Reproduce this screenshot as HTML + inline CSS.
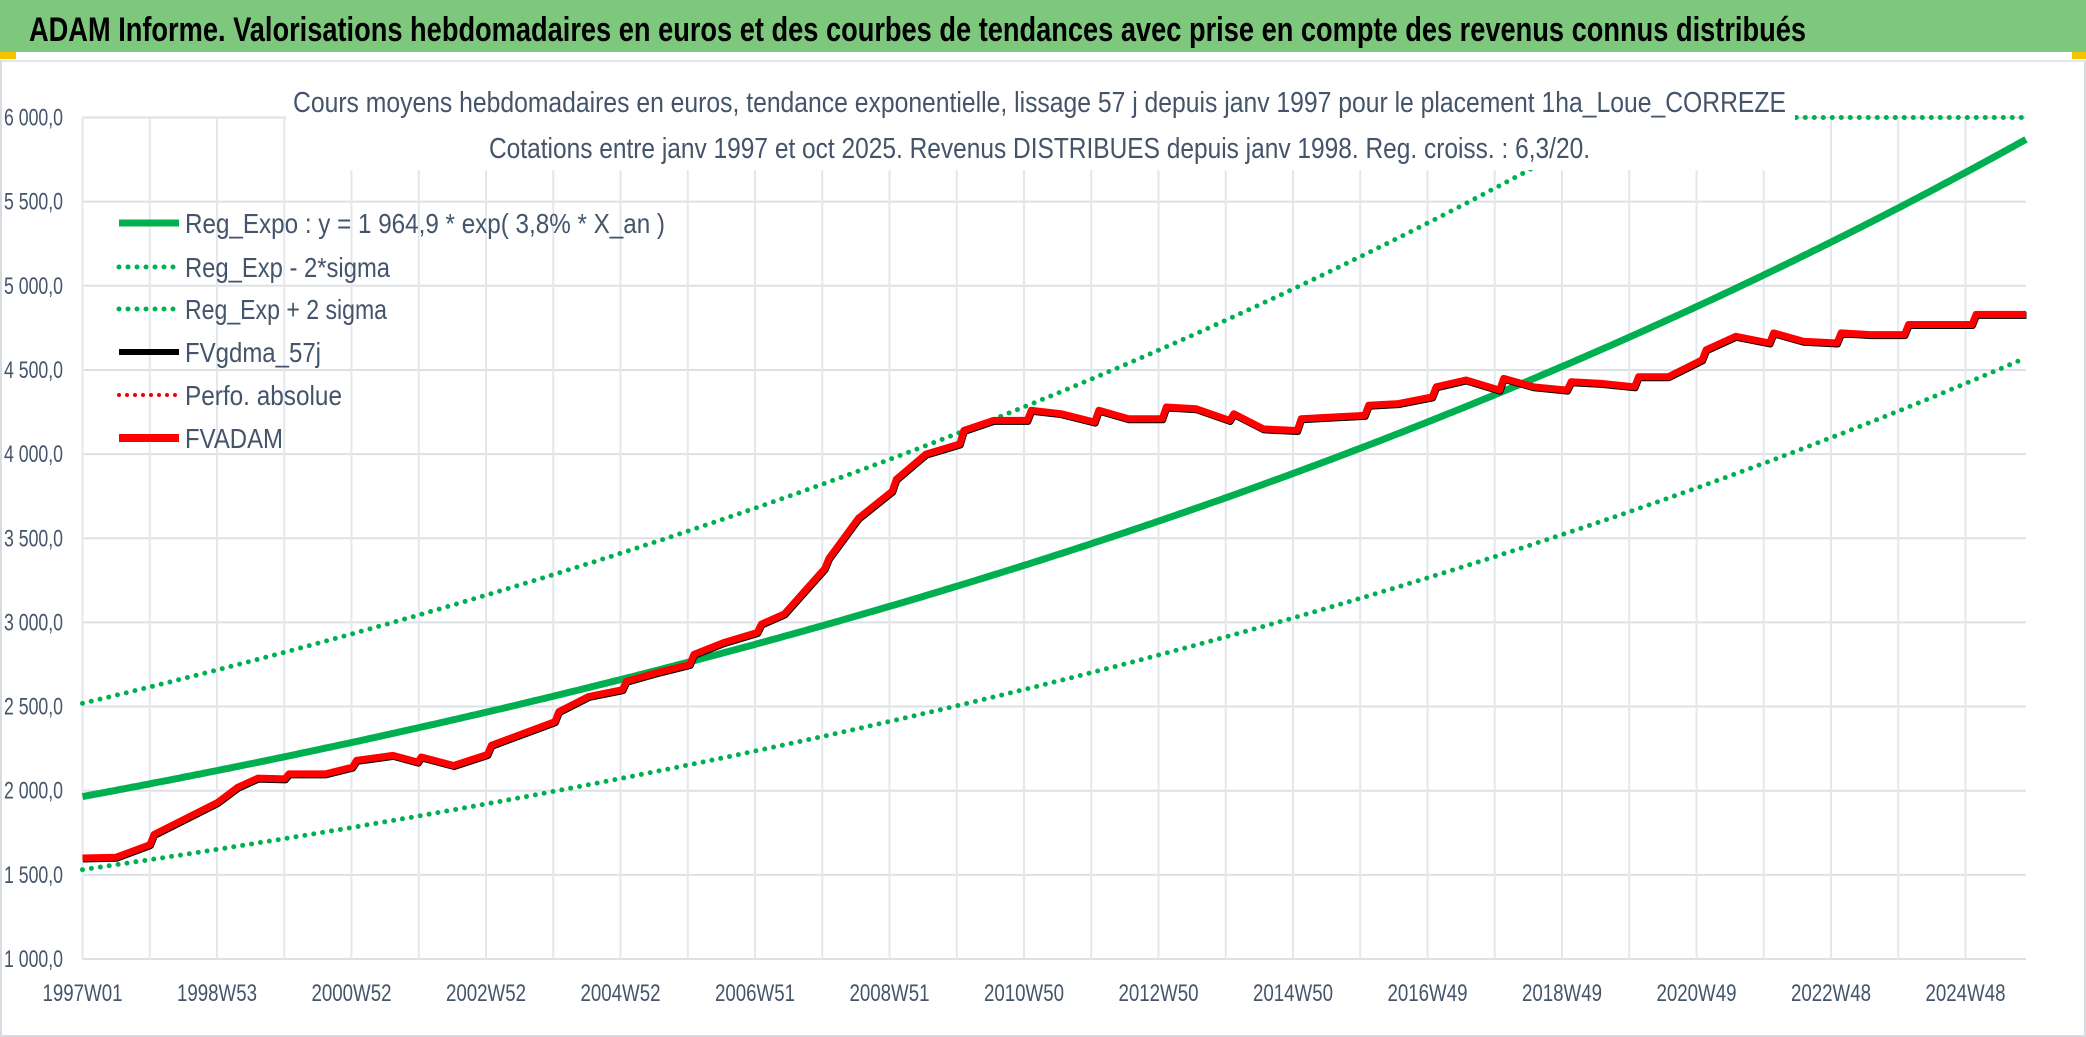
<!DOCTYPE html>
<html><head><meta charset="utf-8"><style>
html,body{margin:0;padding:0;background:#fff;}
svg{display:block;font-family:"Liberation Sans",sans-serif;}
</style></head><body>
<svg id="chart" width="2086" height="1037" viewBox="0 0 2086 1037" xmlns="http://www.w3.org/2000/svg">
<rect x="0" y="0" width="2086" height="1037" fill="#fff"/>
<rect x="0" y="0" width="2086" height="52" fill="#7ec87e"/>
<rect x="0" y="52" width="16" height="7" fill="#f5c400"/>
<rect x="2072" y="52" width="14" height="7" fill="#f5c400"/>
<line x1="0" y1="61" x2="2086" y2="61" stroke="#e3e6ea" stroke-width="2"/>
<line x1="1" y1="61" x2="1" y2="1037" stroke="#d8dbe0" stroke-width="2"/>
<line x1="2085" y1="61" x2="2085" y2="1037" stroke="#d8dbe0" stroke-width="2"/>
<line x1="0" y1="1036" x2="2086" y2="1036" stroke="#d8dbe0" stroke-width="2"/>
<text x="29" y="41" font-size="34" font-weight="bold" fill="#000" textLength="1777" lengthAdjust="spacingAndGlyphs">ADAM Informe. Valorisations hebdomadaires en euros et des courbes de tendances avec prise en compte des revenus connus distribués</text>
<g id="grid"></g>
<g id="yaxis"></g>
<g id="xaxis"></g>
<g id="series"></g>
<rect x="286" y="84" width="1509" height="86" fill="#fff"/>
<text x="293" y="112" font-size="29" fill="#44546a" textLength="1493" lengthAdjust="spacingAndGlyphs">Cours moyens hebdomadaires en euros, tendance exponentielle, lissage 57 j depuis janv 1997 pour le placement 1ha_Loue_CORREZE</text>
<text x="489" y="158" font-size="29" fill="#44546a" textLength="1101" lengthAdjust="spacingAndGlyphs">Cotations entre janv 1997 et oct 2025. Revenus DISTRIBUES depuis janv 1998. Reg. croiss. : 6,3/20.</text>
<g font-size="28" fill="#44546a">
 <g><line x1="119" y1="223" x2="179" y2="223" stroke="#00b050" stroke-width="7"/><text x="185" y="233" textLength="480" lengthAdjust="spacingAndGlyphs">Reg_Expo : y = 1 964,9 * exp( 3,8% *  X_an )</text></g>
 <g><line x1="119" y1="267" x2="179" y2="267" stroke="#00b050" stroke-width="5" stroke-dasharray="0 9" stroke-linecap="round"/><text x="185" y="277" textLength="205" lengthAdjust="spacingAndGlyphs">Reg_Exp - 2*sigma</text></g>
 <g><line x1="119" y1="309" x2="179" y2="309" stroke="#00b050" stroke-width="5" stroke-dasharray="0 9" stroke-linecap="round"/><text x="185" y="319" textLength="202" lengthAdjust="spacingAndGlyphs">Reg_Exp + 2 sigma</text></g>
 <g><line x1="119" y1="352" x2="179" y2="352" stroke="#000" stroke-width="6"/><text x="185" y="362" textLength="136" lengthAdjust="spacingAndGlyphs">FVgdma_57j</text></g>
 <g><line x1="119" y1="395" x2="179" y2="395" stroke="#e00" stroke-width="4" stroke-dasharray="0 8" stroke-linecap="round"/><text x="185" y="405" textLength="157" lengthAdjust="spacingAndGlyphs">Perfo. absolue</text></g>
 <g><line x1="119" y1="438" x2="179" y2="438" stroke="#f00" stroke-width="8"/><text x="185" y="448" textLength="98" lengthAdjust="spacingAndGlyphs">FVADAM</text></g>
</g>
</svg>
<script>
const yTicks=[1000,1500,2000,2500,3000,3500,4000,4500,5000,5500,6000];
const yTickLabels=["1 000,0","1 500,0","2 000,0","2 500,0","3 000,0","3 500,0","4 000,0","4 500,0","5 000,0","5 500,0","6 000,0"];
const xTickLabels=["1997W01","1998W53","2000W52","2002W52","2004W52","2006W51","2008W51","2010W50","2012W50","2014W50","2016W49","2018W49","2020W49","2022W48","2024W48"];
const regParams=[1964.9,0.038];
const sigmaFactors=[0.779,1.282];
const adamYears=[1997.0,1997.5,1998.0,1998.06,1999.0,1999.3,1999.6,2000.0,2000.06,2000.6,2001.0,2001.06,2001.6,2001.97,2002.02,2002.5,2003.0,2003.06,2004.0,2004.06,2004.5,2005.0,2005.06,2005.5,2006.0,2006.06,2006.5,2007.0,2007.06,2007.4,2008.0,2008.06,2008.5,2009.0,2009.06,2009.5,2010.0,2010.06,2010.5,2011.0,2011.06,2011.5,2012.0,2012.06,2012.5,2013.0,2013.06,2013.5,2014.0,2014.06,2014.5,2015.0,2015.06,2015.5,2016.0,2016.06,2016.5,2017.0,2017.06,2017.5,2018.0,2018.06,2018.5,2019.0,2019.06,2019.5,2020.0,2020.06,2020.5,2021.0,2021.06,2021.5,2022.0,2022.06,2022.5,2023.0,2023.06,2023.5,2024.0,2024.06,2024.5,2025.0,2025.06,2025.8];
const adamValues=[1600,1605,1680,1740,1930,2020,2075,2070,2100,2100,2140,2180,2210,2170,2200,2150,2215,2270,2410,2470,2560,2600,2650,2700,2750,2810,2880,2940,2990,3050,3320,3380,3620,3780,3850,4000,4060,4140,4200,4200,4260,4240,4190,4260,4210,4210,4280,4270,4200,4240,4150,4140,4210,4220,4230,4290,4300,4340,4400,4440,4380,4450,4400,4380,4430,4420,4400,4460,4460,4560,4620,4700,4660,4720,4670,4660,4720,4710,4710,4770,4770,4770,4830,4830];
const X0=82.5,X1=2026,T0=1997.0,T1=2025.8,Y0=959,Y1=117.5;
function xs(t){return X0+(t-T0)*(X1-X0)/(T1-T0);}
function ys(v){return Y0-(v-1000)*(Y0-Y1)/5000;}
const NS="http://www.w3.org/2000/svg";
function mk(tag,parent,attrs){const e=document.createElementNS(NS,tag);for(const k in attrs)e.setAttribute(k,attrs[k]);parent.appendChild(e);return e;}
const grid=document.getElementById('grid'),yax=document.getElementById('yaxis'),xax=document.getElementById('xaxis'),ser=document.getElementById('series');
yTicks.forEach((v,i)=>{
 const l=mk('line',grid,{x1:X0,x2:X1,y1:ys(v),y2:ys(v),stroke:'#dde1e6','stroke-width':2});
 
 
 const t=mk('text',yax,{x:4,y:ys(v)+8,'font-size':24,fill:'#44546a',textLength:59,lengthAdjust:'spacingAndGlyphs'});
 t.textContent=yTickLabels[i];
 
 
});
const wk=(X1-X0)/((T1-T0)*52.18);
for(let i=0;i<30;i++){
 const x=X0+i*52*wk;
 if(x>X1)break;
 const l=mk('line',grid,{x1:x,x2:x,y1:Y1,y2:Y0,stroke:'#e4e7eb','stroke-width':2});
 
 
}
xTickLabels.forEach((s,i)=>{
 const x=X0+i*104*wk;
 const t=mk('text',xax,{x:x,y:1001,'font-size':24,fill:'#44546a','text-anchor':'middle',textLength:80,lengthAdjust:'spacingAndGlyphs'});
 t.textContent=s;
 
 
});
function trendPts(f){const p=[];for(let t=T0;t<=T1+1e-9;t+=0.05){let v=f*regParams[0]*Math.exp(regParams[1]*(t-T0));v=Math.min(v,6000);p.push(xs(t).toFixed(1)+','+ys(v).toFixed(1));}return p.join(' ');}
const up=mk('polyline',ser,{points:trendPts(sigmaFactors[1]),fill:'none',stroke:'#00b050','stroke-width':5,'stroke-dasharray':'0 9','stroke-linecap':'round'});


const lo=mk('polyline',ser,{points:trendPts(sigmaFactors[0]),fill:'none',stroke:'#00b050','stroke-width':5,'stroke-dasharray':'0 9','stroke-linecap':'round'});


const rg=mk('polyline',ser,{points:trendPts(1),fill:'none',stroke:'#00b050','stroke-width':7});


const ap=adamYears.map((t,i)=>xs(t).toFixed(1)+','+ys(adamValues[i]).toFixed(1)).join(' ');
const bl=mk('polyline',ser,{points:ap,fill:'none',stroke:'#000','stroke-width':7,transform:'translate(0.5,1)','stroke-linejoin':'round'});


const rd=mk('polyline',ser,{points:ap,fill:'none',stroke:'#f00','stroke-width':7,'stroke-linejoin':'round'});


</script>
</body></html>
